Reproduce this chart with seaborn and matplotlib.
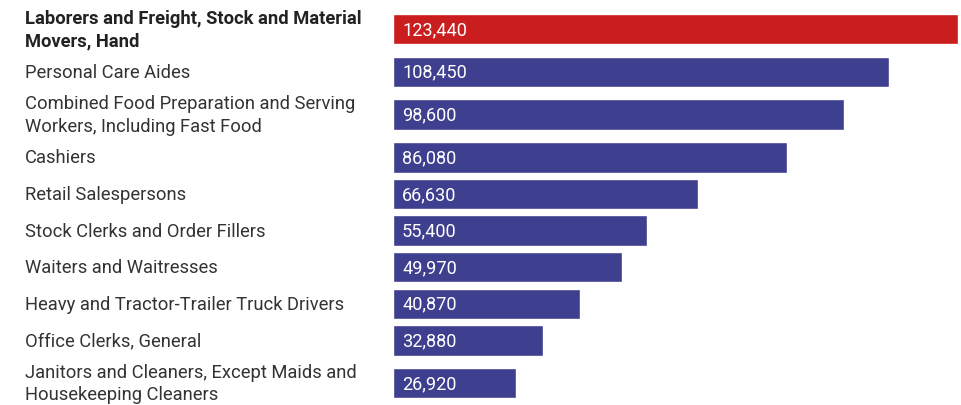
import matplotlib
matplotlib.use("Agg")
import matplotlib.pyplot as plt
import matplotlib.transforms as mtransforms
import numpy as np
import pandas as pd
import seaborn as sns

# ---------------------------------------------------------
# Data
# ---------------------------------------------------------
occupations = [
    "Laborers and Freight, Stock and Material\nMovers, Hand",
    "Personal Care Aides",
    "Combined Food Preparation and Serving\nWorkers, Including Fast Food",
    "Cashiers",
    "Retail Salespersons",
    "Stock Clerks and Order Fillers",
    "Waiters and Waitresses",
    "Heavy and Tractor-Trailer Truck Drivers",
    "Office Clerks, General",
    "Janitors and Cleaners, Except Maids and\nHousekeeping Cleaners",
]
jobs = [123440, 108450, 98600, 86080, 66630, 55400, 49970, 40870, 32880, 26920]
highlight = [True, False, False, False, False, False, False, False, False, False]

RED = "#c91d1e"
BLUE = "#3f3f8f"

# ---------------------------------------------------------
# Layout: rows with two-line labels get a bit more room
# ---------------------------------------------------------
n_lines = np.array([o.count("\n") + 1 for o in occupations])
row_h = 36.6 + 12.4 * (n_lines - 1)
centers = np.cumsum(row_h) - row_h / 2

df = pd.DataFrame({
    "occupation": occupations,
    "jobs": jobs,
    "pos": centers,
    "key": [str(i) for i in range(len(occupations))],
})
palette = {k: (RED if h else BLUE) for k, h in zip(df["key"], highlight)}

sns.set_theme(style="white")
plt.rcParams["font.family"] = ["Roboto", "DejaVu Sans"]

W, H = 961, 406
fig = plt.figure(figsize=(W / 100, H / 100), dpi=100)
ax = fig.add_axes([393 / W, 0, 565 / W, 1])

sns.barplot(data=df, x="jobs", y="pos", hue="key", palette=palette,
            orient="h", native_scale=True, width=30.5 / 36.6,
            legend=False, dodge=False, ax=ax, saturation=1)

ax.set_xlim(0, max(jobs))
ax.set_ylim(H - 5.5, -5.5)
ax.set_axis_off()

# category labels, left aligned in the figure margin
trans = mtransforms.blended_transform_factory(fig.transFigure, ax.transData)
for occ, y, h in zip(occupations, centers, highlight):
    ax.text(25 / W, y, occ, transform=trans, ha="left", va="center",
            fontsize=13.2, color="#222222" if h else "#333333",
            fontweight="bold" if h else "normal", linespacing=1.32)

# value labels inside bars
for v, y in zip(jobs, centers):
    ax.annotate(f"{v:,}", xy=(0, y), xytext=(6.5, 0), textcoords="offset points",
                ha="left", va="center", fontsize=13.1, color="white")

fig.savefig("out.png", dpi=100)
